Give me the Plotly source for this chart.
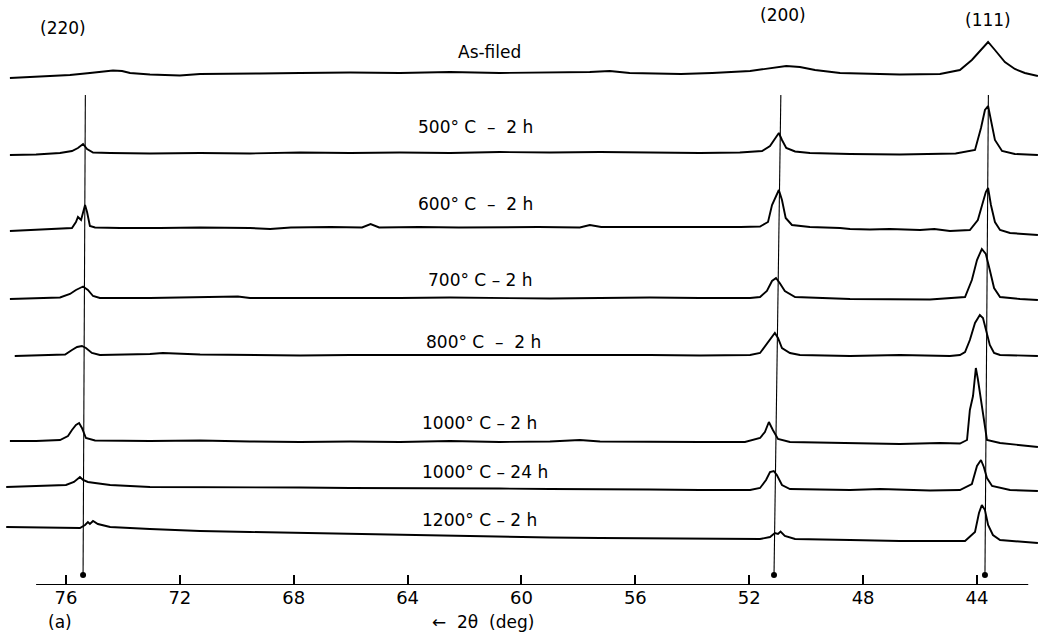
import plotly.graph_objects as go

# ---------------- data (2theta in deg, intensity in arbitrary units) ----------------
scan_names = ["As-filed", "500° C\u00a0 –\u00a0 2 h", "600° C\u00a0 –\u00a0 2 h", "700° C – 2 h",
              "800° C\u00a0 –\u00a0 2 h", "1000° C – 2 h", "1000° C – 24 h", "1200° C – 2 h"]
scan_offsets = [509, 431, 355, 287, 230, 144, 99, 58]

as_filed_tt = [77.97, 77.05, 75.86, 75.16, 74.81, 74.35, 74.03, 73.75, 73.05, 72.52, 72.0, 71.29,
               69.54, 69.2, 67.78, 66.02, 64.27, 62.51, 60.76, 59.0, 57.6, 56.9, 56.2, 54.4, 53.3,
               51.97, 51.27, 50.7, 50.22, 49.69, 48.81, 47.76, 46.71, 45.3, 44.6, 44.18, 43.86,
               43.61, 43.37, 43.02, 42.67, 42.32, 41.86]
as_filed_i = [-2, -1, 1, 3, 4, 5.5, 5, 3, 1.5, 1, 0.5, 2,
              3, 2.5, 3, 3.5, 3, 4, 3, 3.5, 4, 5, 3, 2, 3,
              5, 7.5, 10, 9, 6, 3, 2, 1.5, 2, 6, 16, 26,
              34, 26, 14, 7, 3, 0]

t500_tt = [77.97, 77.05, 76.21, 75.79, 75.58, 75.40, 75.26, 75.05, 74.45, 73.05, 71.29, 69.54,
           67.78, 66.02, 64.27, 62.51, 60.76, 59.0, 57.24, 55.49, 53.73, 52.33, 51.55, 51.27,
           51.06, 50.96, 50.85, 50.7, 50.39, 49.87, 48.46, 46.71, 44.75, 44.07, 43.86, 43.72,
           43.61, 43.51, 43.37, 43.12, 42.67, 41.86]
t500_i = [-1, -0.5, 1, 3, 6, 10, 5, 1.5, 1, 0.5, 1, 0.5,
          1.5, 1, 1.5, 1, 2, 1.5, 2, 1.5, 1, 1.5, 3, 8,
          16, 21, 14, 6, 2.5, 1, 0, -0.5, 0.5, 4, 26, 44,
          48, 34, 14, 3, 0, -1]

t600_tt = [77.97, 77.05, 76.21, 75.79, 75.65, 75.58, 75.47, 75.33, 75.26, 75.16, 74.98, 74.1,
           72.7, 71.29, 69.54, 68.83, 68.1, 66.7, 65.6, 65.3, 65.0, 63.6, 62.2, 60.76, 59.4,
           57.95, 57.6, 57.2, 55.49, 53.73, 52.3, 51.62, 51.34, 51.2, 51.06, 50.96, 50.85,
           50.72, 50.5, 49.87, 48.81, 48.46, 47.76, 47.06, 46.0, 45.5, 44.95, 44.25, 43.97,
           43.83, 43.69, 43.61, 43.51, 43.37, 43.19, 42.84, 41.86]
t600_i = [-1, 0, 1, 2, 8, 13, 10, 25, 18, 4, 2.5, 2,
          2, 2.5, 2, 1, 2.5, 3, 2.5, 6, 2.5, 3, 2.5, 3, 3,
          2.5, 5, 3, 3, 2.5, 3, 3.5, 8, 25, 33, 40, 30,
          12, 5, 3, 2, 1, 0.5, 1, 0, 1, -1, 0, 10,
          25, 38, 42, 25, 8, 0, -3, -5]

t700_tt = [77.97, 77.05, 76.21, 75.86, 75.65, 75.40, 75.23, 75.05, 74.81, 73.05, 71.29, 69.96,
           69.54, 67.78, 66.02, 64.27, 62.51, 60.76, 59.0, 57.24, 55.49, 53.73, 51.97, 51.62,
           51.38, 51.2, 51.06, 50.93, 50.75, 50.39, 48.46, 45.65, 44.42, 44.18, 44.0, 43.83,
           43.69, 43.55, 43.40, 43.19, 42.49, 41.86]
t700_i = [-1, -0.5, 0.5, 4, 8, 11.5, 8, 2, 0, 0, 0.5, 1.5,
          0, 0, -0.5, 0, 0.5, 0, -0.5, 0, 0.5, 0, 0, 1,
          7, 17, 20, 15, 7, 1, -1, -1.5, 1, 18, 38, 49,
          44, 28, 10, 1, -1, -2]

t800_tt = [77.8, 77.05, 76.03, 75.79, 75.61, 75.44, 75.30, 75.09, 74.81, 73.05, 72.6, 71.29,
           69.54, 67.78, 66.02, 64.27, 62.51, 60.76, 59.0, 57.24, 55.49, 53.73, 51.97, 51.62,
           51.41, 51.2, 51.10, 50.99, 50.85, 50.57, 50.22, 48.46, 46.71, 44.95, 44.6, 44.42,
           44.25, 44.07, 43.90, 43.79, 43.69, 43.55, 43.40, 43.19, 41.86]
t800_i = [-1, -0.5, 0.5, 5, 8, 9, 7, 2, 0, 1, 2, 0.5,
          0, -0.5, 0, 0, 0.5, 0, 0, 0, 0, -0.5, 0, 2,
          10, 19, 22, 17, 7, 2, 0, -1, 0, -1, 0, 3,
          15, 32, 40, 37, 25, 10, 2, 0, -1]

t1000_tt = [77.97, 77.05, 76.21, 75.93, 75.79, 75.65, 75.54, 75.44, 75.30, 74.98, 73.05, 71.29,
            69.54, 67.78, 66.02, 64.27, 62.51, 60.76, 59.0, 57.95, 57.24, 55.49, 53.73, 52.15,
            51.62, 51.45, 51.31, 51.17, 50.99, 50.57, 48.46, 46.71, 45.3, 44.6, 44.35, 44.25,
            44.14, 44.04, 43.97, 43.90, 43.72, 43.65, 43.19, 42.49, 41.86]
t1000_i = [0, 0, 1, 5, 11, 16, 18, 13, 3, 0.5, 0, 0.5,
           -0.5, -1, -0.5, -1, 0, -1, -0.5, 1, -0.5, -1, -1, -1,
           3, 9, 19, 11, 2, -1, -2, -3, -2, -2.5, 1, 31,
           45, 73, 62, 48, 14, 1, -2, -4, -6]

t1000l_tt = [78.1, 77.05, 76.0, 75.72, 75.58, 75.51, 75.40, 75.23, 74.98, 74.45, 73.05, 71.29,
             69.54, 67.78, 66.02, 64.27, 62.51, 60.76, 59.0, 57.24, 55.49, 53.73, 51.97, 51.62,
             51.41, 51.27, 51.14, 51.03, 50.85, 50.57, 48.46, 47.4, 45.65, 44.6, 44.18, 44.0,
             43.86, 43.76, 43.65, 43.47, 42.84, 41.86]
t1000l_i = [-1, 0, 1, 4, 7, 9, 6, 4, 3, 1, -1, -1,
            -1.5, -1.5, -2, -2, -2, -2.5, -3, -3, -3.5, -4, -4, -2,
            6, 14, 15, 11, 1, -3, -4, -3, -4.5, -4, 2, 20,
            26, 19, 8, 0, -4, -5]

t1200_tt = [78.1, 77.05, 76.0, 75.51, 75.33, 75.23, 75.16, 75.05, 74.88, 74.45, 73.05, 71.29,
            69.54, 67.78, 66.02, 64.27, 62.51, 60.76, 59.0, 57.24, 55.49, 53.73, 51.62, 51.27,
            51.10, 50.99, 50.90, 50.75, 50.39, 48.46, 46.71, 45.3, 44.42, 44.07, 43.93, 43.83,
            43.72, 43.61, 43.44, 43.19, 41.86]
t1200_i = [0, -0.5, -0.5, -1, 2, 5, 3, 6, 3, 0, -2, -4,
           -5, -6, -7, -8, -9, -10, -10.5, -11, -11.5, -11.5, -12, -10,
           -6, -7, -4.5, -9, -12, -13, -14, -14, -14, -5, 14, 22,
           17, 2, -8, -13, -16]

scan_tt = [as_filed_tt, t500_tt, t600_tt, t700_tt, t800_tt, t1000_tt, t1000l_tt, t1200_tt]
scan_i = [as_filed_i, t500_i, t600_i, t700_i, t800_i, t1000_i, t1000l_i, t1200_i]

# scan label positions (2theta of label centre, height of label centre above scan)
label_tt = [61.14, 61.63, 61.6, 61.45, 61.35, 61.49, 61.28, 61.46]
label_rise = [24, 27, 26, 18, 13, 18, 14, 7]

# reflection markers
hkl_labels = ["(220)", "(200)", "(111)"]
hkl_top_tt = [75.32, 50.89, 43.60]
hkl_bottom_tt = [75.40, 51.13, 43.72]
hkl_label_tt = [76.1, 50.82, 43.61]

tick_vals = [76, 72, 68, 64, 60, 56, 52, 48, 44]

# ---------------- figure ----------------
FONT = "DejaVu Sans, sans-serif"
fig = go.Figure()

for tt, inten, off in zip(scan_tt, scan_i, scan_offsets):
    fig.add_trace(go.Scatter(
        x=tt, y=[off + v for v in inten], mode="lines",
        line=dict(color="black", width=1.9, shape="linear"),
        hoverinfo="skip", showlegend=False))

for top, bot in zip(hkl_top_tt, hkl_bottom_tt):
    fig.add_trace(go.Scatter(
        x=[top, bot], y=[490, 10], mode="lines",
        line=dict(color="black", width=1.1), hoverinfo="skip", showlegend=False))
fig.add_trace(go.Scatter(
    x=hkl_bottom_tt, y=[10] * len(hkl_bottom_tt), mode="markers",
    marker=dict(color="black", size=6), hoverinfo="skip", showlegend=False))

for name, lt, off, rise in zip(scan_names, label_tt, scan_offsets, label_rise):
    fig.add_annotation(x=lt, y=off + rise, text=name, showarrow=False,
                       xanchor="center", yanchor="middle",
                       font=dict(family=FONT, size=17, color="black"))

hkl_y = [557, 570, 565]
for lab, lt, yy in zip(hkl_labels, hkl_label_tt, hkl_y):
    fig.add_annotation(x=lt, y=yy, text=lab, showarrow=False,
                       xanchor="center", yanchor="middle",
                       font=dict(family=FONT, size=17, color="black"))

fig.add_annotation(x=61.35, xref="x", y=-37 / 585, yref="paper", text="←\u00a0 2θ  (deg)",
                   showarrow=False, xanchor="center", yanchor="middle",
                   font=dict(family=FONT, size=17, color="black"))
fig.add_annotation(x=76.2, xref="x", y=-37 / 585, yref="paper", text="(a)", showarrow=False,
                   xanchor="center", yanchor="middle",
                   font=dict(family=FONT, size=17, color="black"))

# axis baseline
fig.add_shape(type="line", xref="x", yref="y", x0=77.05, x1=42.2, y0=0, y1=0,
              line=dict(color="black", width=1.8))

fig.update_xaxes(range=[78.318, 41.857], tickvals=tick_vals,
                 ticktext=[str(v) for v in tick_vals],
                 ticks="inside", ticklen=10, tickwidth=1.5, tickcolor="black",
                 showline=False, showgrid=False, zeroline=False,
                 tickfont=dict(family=FONT, size=18, color="black"))
fig.update_yaxes(range=[0, 585], visible=False, showgrid=False, zeroline=False)

fig.update_layout(width=1038, height=632, margin=dict(l=0, r=0, t=0, b=47),
                  paper_bgcolor="white", plot_bgcolor="white")

fig.write_html("out.html")
